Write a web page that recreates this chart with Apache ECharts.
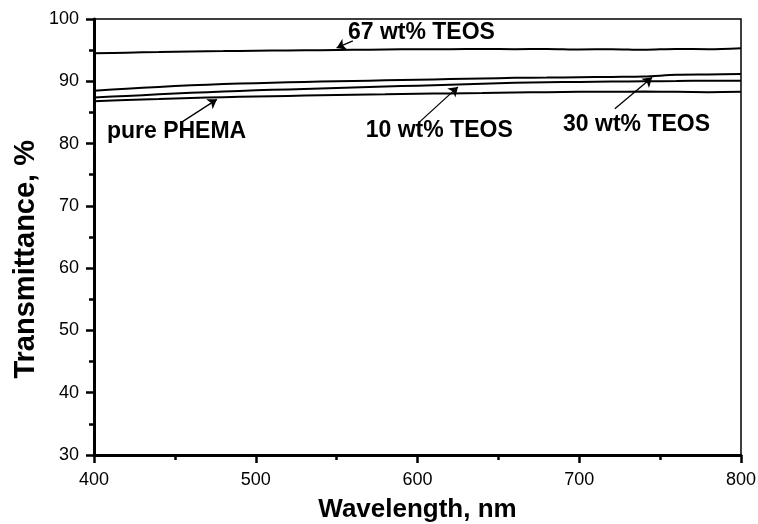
<!DOCTYPE html>
<html>
<head>
<meta charset="utf-8">
<script src="https://cdn.jsdelivr.net/npm/echarts@6/dist/echarts.min.js"></script>
<style>
  html, body { margin: 0; padding: 0; background: #fff; }
  #chart { width: 758px; height: 524px; }
</style>
</head>
<body>
<div id="chart"></div>
<script>
// wavelength, nm (every 20 nm)
const wavelengths = [400, 420, 440, 460, 480, 500, 520, 540, 560, 580, 600,
                     620, 640, 660, 680, 700, 720, 740, 760, 780, 800]
// transmittance, %
const pureValues = [86.8, 87.0, 87.15, 87.3, 87.45, 87.55, 87.65, 87.75, 87.85, 87.9, 88.0,
                    88.05, 88.1, 88.2, 88.25, 88.3, 88.3, 88.35, 88.3, 88.25, 88.3]
const teos10Values = [87.4, 87.65, 87.9, 88.15, 88.35, 88.55, 88.7, 88.85, 89.0, 89.15, 89.3,
                      89.45, 89.6, 89.75, 89.85, 89.9, 89.95, 90.0, 90.05, 90.1, 90.1]
const teos30Values = [88.5, 88.8, 89.1, 89.35, 89.55, 89.7, 89.85, 89.95, 90.05, 90.15, 90.25,
                      90.35, 90.45, 90.55, 90.6, 90.65, 90.7, 90.75, 91.05, 91.1, 91.15]
const teos67Values = [94.5, 94.6, 94.7, 94.8, 94.85, 94.9, 94.95, 95.0, 95.05, 95.1, 95.15,
                      95.15, 95.2, 95.15, 95.2, 95.1, 95.15, 95.05, 95.2, 95.15, 95.3]

const xTicks = [400, 500, 600, 700, 800]
const yTicks = [30, 40, 50, 60, 70, 80, 90, 100]

// annotation: label text, label anchor [wl, %], arrow start, arrow tip
const notes = [
    { text: '67 wt% TEOS', at: [557, 97.75], from: [560, 96.5], to: [550, 95.35] },
    { text: 'pure PHEMA', at: [408, 81.9], from: [454, 83.4], to: [476, 87.1] },
    { text: '10 wt% TEOS', at: [568, 82.0], from: [601, 83.4], to: [625, 89.1] },
    { text: '30 wt% TEOS', at: [690, 83.1], from: [722, 85.6], to: [745, 90.6] }
]

const pairs = vals => wavelengths.map((w, i) => [w, vals[i]])

const chart = echarts.init(document.getElementById('chart'))

const lineSeries = (name, vals, note) => ({
    name: name,
    type: 'line',
    data: pairs(vals),
    showSymbol: false,
    smooth: 0.3,
    lineStyle: { color: '#000', width: 2 },
    markLine: {
        silent: true,
        symbol: ['none', 'arrow'],
        symbolSize: 9,
        label: { show: false },
        lineStyle: { color: '#000', width: 1.3, type: 'solid' },
        data: [[{ coord: note.from }, { coord: note.to }]]
    },
    markPoint: {
        silent: true,
        symbol: 'circle',
        symbolSize: 0,
        label: {
            show: true,
            position: 'right',
            distance: 0,
            formatter: note.text,
            fontFamily: 'Liberation Sans',
            fontWeight: 'bold',
            fontSize: 23,
            color: '#000'
        },
        data: [{ coord: note.at }]
    }
})

const option = {
    backgroundColor: '#fff',
    animation: false,
    grid: {
        left: 94,
        right: 17,
        top: 19,
        bottom: 69,
        outerBoundsMode: 'none',
        containLabel: false,
        show: true,
        borderColor: '#000',
        borderWidth: 1.5
    },
    graphic: [{
        type: 'text',
        left: 11,
        top: 140,
        rotation: Math.PI / 2,
        style: {
            text: 'Transmittance, %',
            font: 'bold 29px "Liberation Sans"',
            fill: '#000'
        }
    }],
    xAxis: {
        type: 'value',
        min: xTicks[0],
        max: xTicks[xTicks.length - 1],
        interval: 100,
        name: 'Wavelength, nm',
        nameLocation: 'middle',
        nameGap: 42,
        nameTextStyle: { fontFamily: 'Liberation Sans', fontWeight: 'bold', fontSize: 26, color: '#000' },
        axisLine: { lineStyle: { color: '#000', width: 3 } },
        axisTick: { inside: false, length: 8, lineStyle: { color: '#000', width: 2.5 } },
        minorTick: { show: true, splitNumber: 2, length: 5, lineStyle: { color: '#000', width: 2.5 } },
        axisLabel: { margin: 16, fontFamily: 'Liberation Sans', fontSize: 18, color: '#000' },
        splitLine: { show: false }
    },
    yAxis: {
        type: 'value',
        min: yTicks[0],
        max: yTicks[yTicks.length - 1],
        interval: 10,
        axisLine: { show: true, lineStyle: { color: '#000', width: 3 } },
        axisTick: { show: true, inside: false, length: 8, lineStyle: { color: '#000', width: 2.5 } },
        minorTick: { show: true, splitNumber: 2, length: 5, lineStyle: { color: '#000', width: 2.5 } },
        axisLabel: { margin: 15, fontFamily: 'Liberation Sans', fontSize: 18, color: '#000' },
        splitLine: { show: false }
    },
    series: [
        lineSeries('pure PHEMA', pureValues, notes[1]),
        lineSeries('10 wt% TEOS', teos10Values, notes[2]),
        lineSeries('30 wt% TEOS', teos30Values, notes[3]),
        lineSeries('67 wt% TEOS', teos67Values, notes[0])
    ]
}

chart.setOption(option)
</script>
</body>
</html>
